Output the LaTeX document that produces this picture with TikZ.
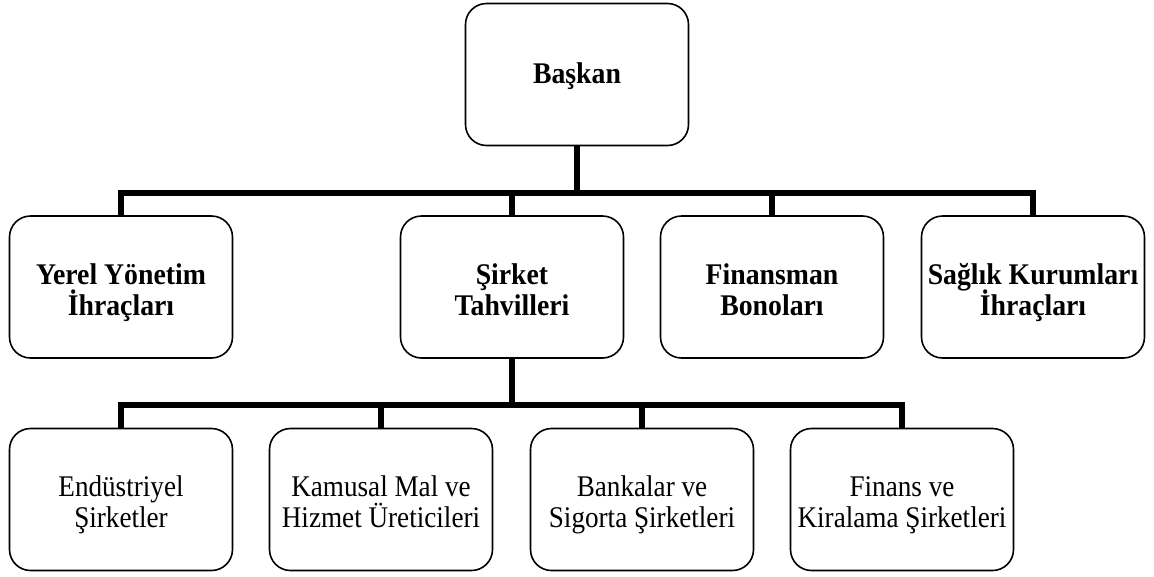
\documentclass[tikz,border=0pt]{standalone}
\usepackage{fontspec}
\setmainfont{Liberation Serif}
\newfontfamily\regf{Liberation Serif}[FakeStretch=0.905]
\newfontfamily\boldf{Liberation Serif}[FakeStretch=0.925]
\newcommand\topstrut{\rule{0pt}{33pt}}
\newcommand\onestrut{\rule{0pt}{25pt}}
\newcommand\botstrut{\rule[-8pt]{0pt}{8pt}}
\newcommand\tightls{\lineskiplimit=-50pt\relax}
\newcommand\hdfont{\fontsize{30}{31}\boldf\bfseries\tightls}
\newcommand\subfont{\fontsize{30}{31}\regf\tightls}
\begin{document}
\begin{tikzpicture}[x=1pt,y=-1pt,
  box/.style={draw=black, line width=1.6pt, rounded corners=21pt, minimum width=223pt, minimum height=142pt, align=center, inner sep=0pt},
  hd/.style={box, font=\hdfont},
  sub/.style={box, font=\subfont},
  conn/.style={line width=6pt, line join=miter, line cap=butt}]
\useasboundingbox (0,0) rectangle (1154,576);
\node[hd] (top) at (577,74.5) {\onestrut Başkan\botstrut};
\node[hd] (a) at (121,287) {\topstrut Yerel Yönetim\\İhraçları\botstrut};
\node[hd] (b) at (512,287) {\topstrut Şirket\\Tahvilleri\botstrut};
\node[hd] (c) at (772,287) {\topstrut Finansman\\Bonoları\botstrut};
\node[hd] (d) at (1033,287) {\topstrut Sağlık Kurumları\\İhraçları\botstrut};
\node[sub] (e) at (121,499.5) {\topstrut Endüstriyel\\Şirketler\botstrut};
\node[sub] (f) at (381,499.5) {\topstrut Kamusal Mal ve\\Hizmet Üreticileri\botstrut};
\node[sub] (g) at (642,499.5) {\topstrut Bankalar ve\\Sigorta Şirketleri\botstrut};
\node[sub] (h) at (902,499.5) {\topstrut Finans ve\\Kiralama Şirketleri\botstrut};
\coordinate (j1) at (577,193);
\coordinate (j2) at (512,405);
\draw[conn] (top.south) -- (j1);
\draw[conn] (a.north) -- (a.north |- j1) -- (d.north |- j1) -- (d.north);
\draw[conn] (b.north |- j1) -- (b.north);
\draw[conn] (c.north |- j1) -- (c.north);
\draw[conn] (b.south) -- (j2);
\draw[conn] (e.north) -- (e.north |- j2) -- (h.north |- j2) -- (h.north);
\draw[conn] (f.north |- j2) -- (f.north);
\draw[conn] (g.north |- j2) -- (g.north);
\end{tikzpicture}
\end{document}
